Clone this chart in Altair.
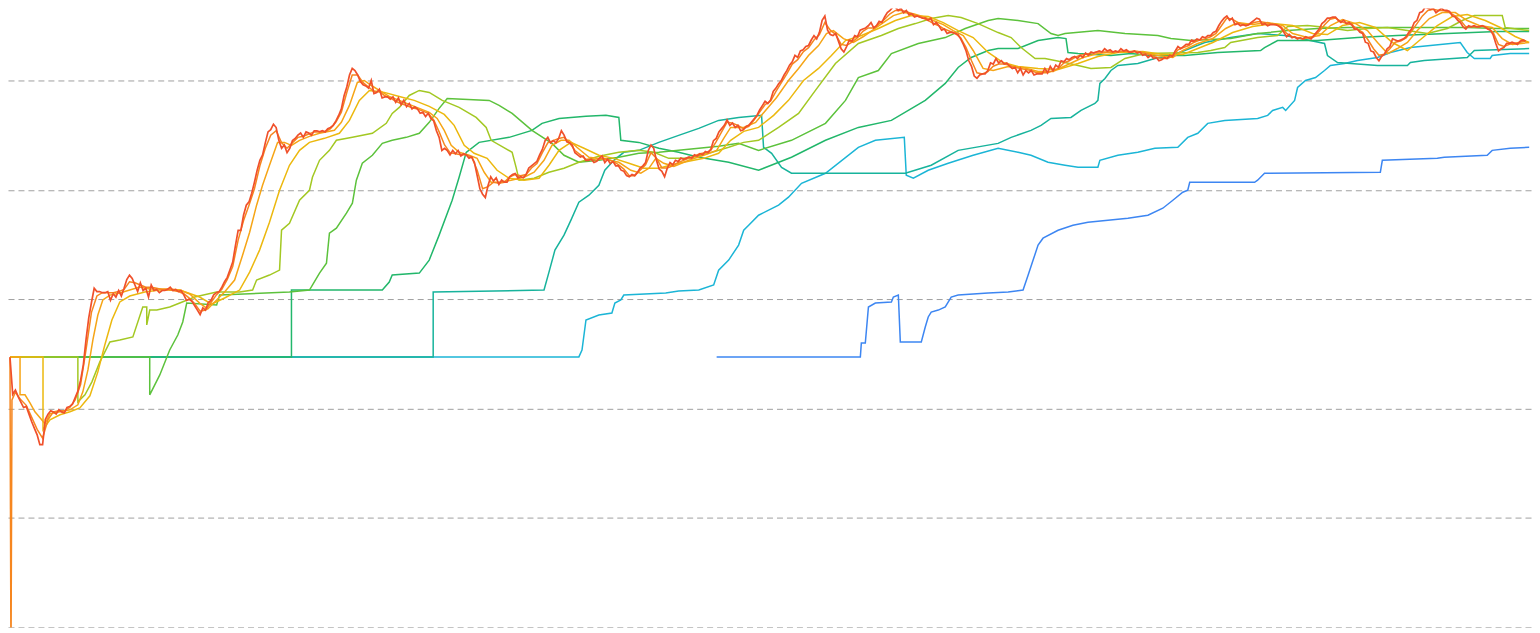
import altair as alt
import pandas as pd

# ---- time axis: decimal years; price values stored as log10(price in USD) ----
START = 2015.600           # first sample
WEEK = 7 / 365.25          # weekly sampling of the spot price

# spot price, even weeks (0, 2, 4, ...)
price_log = [
0.47,0.17,0.06,0.02,-0.12,-0.24,-0.33,-0.05,-0.03,-0.01,-0.04,0.02,0.10,0.26,0.63,0.97,1.07,1.06,1.07,1.05,
1.08,1.10,1.22,1.13,1.15,1.10,1.13,1.09,1.08,1.09,1.08,1.07,1.04,1.00,0.94,0.86,0.90,0.99,1.06,1.11,
1.20,1.34,1.63,1.77,1.89,2.07,2.27,2.43,2.55,2.57,2.38,2.34,2.45,2.50,2.48,2.52,2.54,2.53,2.53,2.57,
2.63,2.74,2.94,3.11,3.05,2.96,2.93,2.88,2.92,2.85,2.83,2.80,2.78,2.76,2.74,2.74,2.71,2.70,2.63,2.48,
2.38,2.32,2.33,2.31,2.32,2.30,2.13,1.96,2.04,2.08,2.05,2.07,2.12,2.15,2.12,2.14,2.22,2.26,2.37,2.48,
2.45,2.47,2.50,2.43,2.34,2.30,2.27,2.28,2.26,2.31,2.28,2.26,2.22,2.17,2.12,2.13,2.20,2.25,2.41,2.27,
2.17,2.20,2.23,2.26,2.28,2.30,2.32,2.33,2.35,2.37,2.47,2.56,2.64,2.61,2.59,2.55,2.59,2.65,2.73,2.81,
2.82,2.93,3.00,3.09,3.17,3.21,3.28,3.32,3.41,3.44,3.59,3.42,3.43,3.29,3.31,3.36,3.40,3.47,3.50,3.48,
3.54,3.58,3.64,3.67,3.66,3.64,3.61,3.59,3.57,3.55,3.51,3.50,3.47,3.44,3.43,3.38,3.27,3.13,3.02,3.06,
3.09,3.15,3.16,3.15,3.13,3.12,3.11,3.09,3.09,3.06,3.06,3.07,3.09,3.12,3.17,3.19,3.22,3.23,3.25,3.26,
3.26,3.26,3.27,3.26,3.26,3.27,3.26,3.27,3.26,3.24,3.23,3.21,3.19,3.20,3.22,3.31,3.31,3.33,3.36,3.37,
3.39,3.41,3.45,3.54,3.59,3.57,3.52,3.51,3.51,3.55,3.56,3.52,3.51,3.51,3.48,3.40,3.39,3.38,3.38,3.39,
3.41,3.47,3.54,3.57,3.58,3.53,3.52,3.51,3.47,3.43,3.34,3.26,3.18,3.24,3.31,3.37,3.37,3.40,3.47,3.55,
3.63,3.66,3.66,3.64,3.64,3.63,3.58,3.53,3.47,3.49,3.49,3.50,3.47,3.42,3.27,3.30,3.34,3.34,3.36,3.36,
]

# spot price, odd weeks (1, 3, 5, ...)
price_log_odd = [
0.13,0.11,0.01,-0.05,-0.18,-0.33,-0.10,-0.02,-0.05,-0.03,0.01,0.04,0.16,0.40,0.83,1.10,1.07,1.06,0.99,1.02,
1.03,1.18,1.19,1.07,1.08,1.02,1.08,1.06,1.08,1.11,1.09,1.08,0.99,0.98,0.90,0.92,0.97,1.04,1.07,1.16,
1.27,1.49,1.63,1.86,1.97,2.18,2.32,2.53,2.60,2.45,2.41,2.38,2.47,2.52,2.53,2.50,2.54,2.54,2.56,2.59,
2.68,2.86,3.05,3.09,2.99,2.95,3.00,2.89,2.84,2.85,2.85,2.84,2.82,2.79,2.76,2.70,2.67,2.65,2.54,2.36,
2.36,2.36,2.36,2.33,2.29,2.25,2.01,1.93,2.12,2.11,2.09,2.07,2.14,2.11,2.11,2.20,2.24,2.32,2.45,2.43,
2.43,2.54,2.44,2.41,2.32,2.31,2.27,2.25,2.29,2.25,2.24,2.22,2.18,2.13,2.14,2.16,2.22,2.36,2.38,2.19,
2.12,2.25,2.27,2.29,2.29,2.29,2.31,2.32,2.34,2.45,2.53,2.59,2.59,2.57,2.54,2.58,2.62,2.68,2.77,2.79,
2.90,2.97,3.05,3.14,3.23,3.27,3.31,3.37,3.38,3.55,3.46,3.41,3.36,3.26,3.37,3.41,3.46,3.48,3.53,3.50,
3.53,3.62,3.67,3.64,3.62,3.60,3.58,3.58,3.57,3.57,3.53,3.46,3.43,3.44,3.42,3.33,3.18,3.04,3.05,3.06,
3.16,3.20,3.18,3.16,3.11,3.07,3.05,3.07,3.05,3.06,3.11,3.13,3.14,3.18,3.20,3.21,3.20,3.21,3.23,3.25,
3.27,3.29,3.28,3.27,3.29,3.28,3.26,3.25,3.23,3.21,3.20,3.18,3.21,3.23,3.27,3.29,3.33,3.37,3.38,3.40,
3.41,3.44,3.50,3.57,3.55,3.51,3.50,3.50,3.53,3.57,3.51,3.50,3.51,3.50,3.44,3.42,3.40,3.39,3.40,3.38,
3.44,3.52,3.57,3.58,3.55,3.55,3.53,3.47,3.44,3.35,3.27,3.21,3.22,3.29,3.38,3.36,3.38,3.44,3.53,3.62,
3.67,3.65,3.62,3.66,3.64,3.59,3.55,3.49,3.50,3.50,3.49,3.49,3.46,3.34,3.29,3.34,3.35,3.33,3.37,
]

# fast moving line (two-week samples)
STEP2 = 14 / 365.25
fast_log = [
0.47,0.15,0.08,0.03,-0.08,-0.19,-0.27,-0.10,-0.03,-0.02,-0.02,0.01,0.08,0.22,0.54,0.88,1.03,1.06,1.06,1.06,
1.07,1.09,1.16,1.15,1.13,1.11,1.11,1.10,1.09,1.09,1.08,1.07,1.05,1.01,0.96,0.89,0.90,0.97,1.04,1.09,
1.18,1.30,1.54,1.72,1.86,2.01,2.22,2.38,2.50,2.54,2.43,2.38,2.43,2.48,2.49,2.51,2.53,2.53,2.53,2.56,
2.62,2.71,2.89,3.05,3.05,2.98,2.94,2.90,2.90,2.86,2.84,2.81,2.79,2.77,2.75,2.74,2.72,2.70,2.64,2.53,
2.41,2.34,2.33,2.32,2.32,2.30,2.18,2.01,2.03,2.07,2.06,2.07,2.12,2.14,2.13,2.14,2.20,2.24,2.34,2.43,
2.45,2.47,2.48,2.43,2.36,2.32,2.28,2.28,2.27,2.29,2.28,2.26,2.23,2.19,2.13,2.13,2.18,2.23,2.34,2.29,
2.20,2.20,2.22,2.25,2.27,2.29,2.31,2.33,2.34,2.36,2.44,2.53,2.62,2.61,2.59,2.56,2.58,2.64,2.71,2.78,
2.81,2.90,2.98,3.06,3.15,3.19,3.26,3.30,3.37,3.42,3.53,3.46,3.42,3.33,3.32,3.35,3.39,3.45,3.48,3.48,
3.52,3.56,3.61,3.64,3.64,3.63,3.61,3.59,3.57,3.55,3.52,3.50,3.47,3.45,3.43,3.39,3.30,3.18,3.07,3.06,
3.08,3.13,3.15,3.15,3.14,3.12,3.11,3.10,3.09,3.07,3.07,3.07,3.09,3.11,3.16,3.18,3.21,3.23,3.24,3.25,
3.26,3.26,3.26,3.26,3.26,3.27,3.26,3.27,3.26,3.25,3.23,3.21,3.20,3.20,3.22,3.28,3.30,3.32,3.35,3.37,
3.38,3.40,3.43,3.50,3.57,3.56,3.53,3.51,3.51,3.53,3.54,3.53,3.52,3.51,3.49,3.43,3.40,3.39,3.38,3.39,
3.40,3.45,3.51,3.56,3.57,3.54,3.52,3.51,3.47,3.44,3.37,3.29,3.23,3.24,3.29,3.35,3.36,3.39,3.45,3.52,
3.59,3.64,3.65,3.64,3.64,3.62,3.59,3.55,3.49,3.49,3.49,3.50,3.48,3.44,3.33,3.31,3.33,3.34,3.35,3.36,
]

# bad print right after launch in the fast series
launch_t = [2015.607, 2015.614]
launch_log = [-2.4, 0.08]

c_t = [2015.600,2015.671,2015.671,2015.706,2015.741,2015.776,2015.812,2015.847,2015.882,2015.953,2016.023,2016.079,2016.114,2016.150,2016.185,2016.220,2016.255,2016.305,2016.375,2016.445,2016.516,2016.586,2016.657,2016.727,2016.798,2016.868,2016.938,2016.995,2017.044,2017.114,2017.185,2017.241,2017.291,2017.340,2017.382,2017.431,2017.488,2017.537,2017.586,2017.643,2017.713,2017.784,2017.889,2017.938,2017.995,2018.051,2018.100,2018.150,2018.206,2018.276,2018.347,2018.417,2018.488,2018.558,2018.614,2018.664,2018.713,2018.769,2018.840,2018.896,2018.946,2018.995,2019.051,2019.136,2019.227,2019.298,2019.368,2019.424,2019.488,2019.544,2019.600,2019.685,2019.791,2019.896,2019.981,2020.051,2020.108,2020.157,2020.213,2020.284,2020.389,2020.495,2020.586,2020.636,2020.685,2020.777,2020.861,2020.931,2021.009,2021.093,2021.164,2021.234,2021.305,2021.361,2021.410,2021.481,2021.551,2021.622,2021.692,2021.762,2021.833,2021.903,2021.974,2022.044,2022.114,2022.185,2022.255,2022.326,2022.396,2022.466,2022.537,2022.643,2022.748,2022.854,2022.960,2023.065,2023.171,2023.276,2023.417,2023.558,2023.699,2023.805,2023.875,2023.981,2024.087,2024.178,2024.263,2024.368,2024.474,2024.580,2024.650,2024.755,2024.840,2024.917,2025.002,2025.094,2025.178,2025.249,2025.320,2025.389,2025.460,2025.530,2025.615,2025.706,2025.798,2025.882,2025.967,2026.058,2026.129,2026.200,2026.319]
c_log = [0.473,0.473,0.126,0.126,0.053,-0.029,-0.084,-0.139,-0.047,-0.029,-0.011,0.035,0.153,0.354,0.628,0.856,0.993,1.038,1.057,1.084,1.111,1.093,1.093,1.093,1.084,1.048,0.965,0.911,0.975,1.066,1.175,1.403,1.613,1.860,2.042,2.225,2.434,2.434,2.407,2.453,2.489,2.517,2.544,2.617,2.772,2.982,3.000,2.954,2.909,2.854,2.818,2.781,2.745,2.708,2.653,2.544,2.407,2.343,2.316,2.288,2.161,2.069,2.069,2.088,2.115,2.161,2.270,2.407,2.453,2.453,2.389,2.298,2.279,2.252,2.179,2.152,2.197,2.288,2.243,2.215,2.270,2.316,2.361,2.471,2.571,2.571,2.617,2.726,2.845,3.000,3.110,3.228,3.319,3.429,3.456,3.383,3.347,3.402,3.465,3.529,3.593,3.621,3.611,3.584,3.548,3.511,3.456,3.411,3.274,3.110,3.091,3.128,3.119,3.082,3.082,3.146,3.210,3.246,3.265,3.265,3.228,3.210,3.274,3.338,3.383,3.475,3.529,3.511,3.529,3.502,3.429,3.392,3.411,3.502,3.557,3.520,3.456,3.347,3.246,3.292,3.347,3.456,3.566,3.621,3.621,3.548,3.502,3.484,3.383,3.329,3.347]

d_t = [2015.600,2015.833,2015.833,2015.882,2015.953,2016.023,2016.093,2016.164,2016.220,2016.269,2016.319,2016.375,2016.445,2016.551,2016.657,2016.798,2016.938,2017.023,2017.114,2017.220,2017.291,2017.361,2017.431,2017.502,2017.572,2017.643,2017.713,2017.819,2017.924,2017.995,2018.065,2018.136,2018.241,2018.347,2018.452,2018.558,2018.664,2018.734,2018.805,2018.875,2018.967,2019.037,2019.122,2019.227,2019.333,2019.403,2019.474,2019.558,2019.650,2019.755,2019.861,2019.967,2020.072,2020.178,2020.284,2020.389,2020.495,2020.600,2020.685,2020.777,2020.882,2020.988,2021.093,2021.199,2021.305,2021.396,2021.495,2021.608,2021.727,2021.847,2021.959,2022.079,2022.185,2022.290,2022.396,2022.502,2022.607,2022.713,2022.854,2022.995,2023.136,2023.276,2023.417,2023.593,2023.734,2023.875,2023.981,2024.087,2024.227,2024.368,2024.509,2024.650,2024.791,2024.896,2025.002,2025.122,2025.234,2025.354,2025.460,2025.544,2025.671,2025.777,2025.882,2026.009,2026.115,2026.220,2026.319]
d_log = [0.473,0.473,-0.193,-0.102,-0.056,-0.029,0.007,0.117,0.336,0.582,0.810,0.975,1.029,1.066,1.084,1.084,1.020,0.956,1.011,1.084,1.248,1.449,1.704,1.996,2.225,2.361,2.434,2.471,2.517,2.635,2.818,2.909,2.891,2.854,2.818,2.763,2.690,2.590,2.407,2.334,2.288,2.179,2.106,2.088,2.106,2.225,2.361,2.434,2.380,2.316,2.288,2.243,2.197,2.197,2.234,2.261,2.288,2.334,2.453,2.535,2.571,2.681,2.818,3.000,3.110,3.228,3.365,3.411,3.475,3.548,3.593,3.584,3.529,3.456,3.392,3.256,3.164,3.128,3.110,3.100,3.155,3.219,3.256,3.265,3.237,3.237,3.292,3.347,3.438,3.493,3.520,3.502,3.429,3.420,3.502,3.529,3.484,3.347,3.274,3.365,3.502,3.584,3.602,3.548,3.484,3.402,3.347]

e_t = [2015.600,2016.079,2016.079,2016.129,2016.178,2016.234,2016.305,2016.375,2016.467,2016.537,2016.565,2016.565,2016.586,2016.636,2016.727,2016.798,2016.903,2017.058,2017.220,2017.312,2017.340,2017.431,2017.502,2017.516,2017.572,2017.643,2017.713,2017.734,2017.784,2017.854,2017.903,2018.016,2018.157,2018.255,2018.297,2018.347,2018.417,2018.488,2018.558,2018.650,2018.769,2018.889,2018.960,2018.995,2019.143,2019.171,2019.192,2019.298,2019.403,2019.509,2019.614,2019.755,2019.896,2020.037,2020.143,2020.248,2020.389,2020.530,2020.671,2020.777,2020.882,2021.023,2021.164,2021.283,2021.424,2021.586,2021.748,2021.868,2021.988,2022.100,2022.220,2022.311,2022.431,2022.572,2022.664,2022.734,2022.833,2022.903,2023.044,2023.136,2023.227,2023.368,2023.467,2023.607,2023.981,2024.072,2024.171,2024.213,2024.403,2024.544,2024.615,2024.755,2024.896,2025.037,2025.178,2025.319,2025.460,2025.601,2025.742,2025.847,2025.932,2026.129,2026.150,2026.319]
e_log = [0.473,0.473,0.062,0.126,0.245,0.427,0.610,0.628,0.655,0.929,0.929,0.765,0.901,0.901,0.929,0.965,1.020,1.066,1.066,1.084,1.175,1.221,1.266,1.631,1.695,1.905,1.996,2.115,2.270,2.361,2.453,2.480,2.517,2.608,2.699,2.754,2.863,2.909,2.891,2.818,2.754,2.662,2.571,2.453,2.343,2.206,2.088,2.106,2.161,2.197,2.252,2.307,2.343,2.361,2.343,2.288,2.288,2.334,2.389,2.434,2.453,2.571,2.699,2.909,3.155,3.338,3.411,3.475,3.520,3.566,3.593,3.575,3.520,3.438,3.392,3.301,3.201,3.201,3.164,3.137,3.110,3.119,3.201,3.246,3.256,3.274,3.301,3.347,3.392,3.411,3.493,3.502,3.484,3.456,3.475,3.484,3.456,3.429,3.475,3.548,3.593,3.593,3.484,3.456]

f_t = [2015.600,2016.586,2016.586,2016.657,2016.727,2016.784,2016.819,2016.847,2017.058,2017.079,2017.572,2017.713,2017.784,2017.833,2017.854,2017.903,2017.974,2018.016,2018.044,2018.086,2018.157,2018.227,2018.297,2018.396,2018.488,2018.558,2018.628,2018.685,2018.981,2019.051,2019.143,2019.283,2019.424,2019.509,2019.614,2019.755,2019.896,2020.037,2020.178,2020.318,2020.460,2020.600,2020.741,2020.882,2021.114,2021.354,2021.495,2021.586,2021.727,2021.819,2022.009,2022.199,2022.340,2022.502,2022.572,2022.713,2022.854,2022.945,2022.995,2023.044,2023.276,2023.467,2023.699,2023.791,2023.932,2024.213,2024.403,2024.615,2024.826,2025.037,2025.249,2025.460,2025.671,2025.882,2026.093,2026.319]
f_log = [0.473,0.473,0.126,0.308,0.536,0.673,0.792,0.965,0.947,1.038,1.066,1.084,1.239,1.330,1.604,1.650,1.787,1.878,2.088,2.243,2.316,2.425,2.453,2.480,2.517,2.617,2.745,2.836,2.818,2.772,2.699,2.544,2.425,2.316,2.252,2.270,2.298,2.334,2.343,2.361,2.380,2.398,2.425,2.361,2.453,2.608,2.818,3.027,3.091,3.246,3.338,3.392,3.475,3.548,3.566,3.548,3.520,3.429,3.411,3.429,3.456,3.429,3.411,3.383,3.365,3.383,3.429,3.456,3.475,3.484,3.484,3.484,3.484,3.484,3.475,3.475]

g_t = [2015.600,2017.586,2017.586,2018.227,2018.276,2018.297,2018.488,2018.558,2018.628,2018.720,2018.769,2018.819,2018.910,2019.122,2019.283,2019.354,2019.474,2019.664,2019.805,2019.896,2019.910,2020.037,2020.178,2020.318,2020.460,2020.671,2020.882,2021.114,2021.354,2021.586,2021.819,2022.058,2022.199,2022.290,2022.382,2022.502,2022.572,2022.713,2022.854,2022.995,2023.051,2023.065,2023.136,2023.368,2023.509,2023.650,2023.889,2024.122,2024.424,2024.452,2024.544,2024.826,2025.108,2025.389,2025.742,2026.093,2026.319]
g_log = [0.473,0.473,1.084,1.084,1.157,1.221,1.239,1.358,1.586,1.905,2.115,2.343,2.434,2.480,2.544,2.608,2.653,2.672,2.681,2.662,2.453,2.434,2.380,2.343,2.298,2.252,2.179,2.298,2.453,2.571,2.635,2.818,2.973,3.119,3.210,3.274,3.292,3.292,3.365,3.392,3.383,3.256,3.246,3.228,3.246,3.228,3.228,3.256,3.274,3.301,3.365,3.365,3.392,3.411,3.429,3.447,3.447]

h_t = [2015.600,2018.586,2018.586,2019.368,2019.403,2019.445,2019.509,2019.558,2019.614,2019.685,2019.755,2019.797,2019.861,2019.931,2020.037,2020.178,2020.318,2020.460,2020.600,2020.741,2020.903,2020.917,2020.974,2021.044,2021.114,2021.917,2022.100,2022.290,2022.572,2022.664,2022.804,2022.875,2022.945,2023.086,2023.157,2023.255,2023.276,2023.290,2023.326,2023.368,2023.417,2023.558,2023.678,2023.791,2023.889,2024.030,2024.213,2024.403,2024.594,2024.706,2024.875,2024.896,2024.967,2025.249,2025.460,2025.481,2025.579,2025.882,2025.932,2026.319]
h_log = [0.473,0.473,1.066,1.084,1.248,1.449,1.586,1.723,1.887,1.951,2.042,2.179,2.270,2.343,2.361,2.434,2.498,2.562,2.635,2.662,2.681,2.389,2.334,2.206,2.152,2.152,2.225,2.361,2.425,2.480,2.544,2.590,2.653,2.662,2.726,2.790,2.818,2.973,3.018,3.091,3.137,3.155,3.201,3.228,3.274,3.347,3.392,3.429,3.411,3.383,3.338,3.228,3.164,3.137,3.137,3.164,3.183,3.210,3.274,3.292]

i_t = [2015.600,2019.614,2019.636,2019.664,2019.755,2019.847,2019.868,2019.910,2019.931,2020.227,2020.318,2020.460,2020.565,2020.600,2020.671,2020.741,2020.777,2020.812,2020.882,2020.953,2021.023,2021.093,2021.185,2021.354,2021.586,2021.706,2021.910,2021.924,2021.974,2022.079,2022.220,2022.396,2022.572,2022.713,2022.804,2022.924,2023.044,2023.136,2023.276,2023.290,2023.417,2023.558,2023.678,2023.840,2023.910,2023.981,2024.051,2024.171,2024.403,2024.474,2024.509,2024.580,2024.601,2024.664,2024.685,2024.741,2024.812,2024.875,2024.917,2025.016,2025.108,2025.249,2025.340,2025.481,2025.622,2025.833,2025.882,2025.932,2026.044,2026.058,2026.185,2026.319]
i_log = [0.473,0.473,0.536,0.810,0.856,0.874,0.965,0.993,1.038,1.057,1.075,1.084,1.130,1.266,1.358,1.495,1.631,1.677,1.768,1.814,1.860,1.933,2.060,2.152,2.389,2.453,2.480,2.133,2.106,2.179,2.243,2.316,2.380,2.343,2.316,2.252,2.225,2.206,2.206,2.270,2.316,2.343,2.380,2.389,2.480,2.517,2.608,2.635,2.653,2.681,2.726,2.754,2.726,2.818,2.936,3.000,3.027,3.091,3.137,3.155,3.183,3.210,3.256,3.301,3.319,3.347,3.256,3.201,3.201,3.228,3.246,3.246]

j_t = [2020.586,2021.600,2021.607,2021.635,2021.657,2021.706,2021.819,2021.833,2021.868,2021.882,2022.030,2022.058,2022.079,2022.100,2022.150,2022.199,2022.241,2022.290,2022.502,2022.643,2022.748,2022.784,2022.819,2022.854,2022.889,2022.995,2023.100,2023.206,2023.347,2023.488,2023.629,2023.734,2023.805,2023.875,2023.910,2023.924,2024.382,2024.403,2024.452,2025.269,2025.283,2025.671,2025.720,2026.023,2026.058,2026.185,2026.319]
j_log = [0.473,0.473,0.600,0.600,0.929,0.965,0.975,1.020,1.038,0.610,0.610,0.746,0.838,0.883,0.901,0.929,1.020,1.038,1.057,1.066,1.084,1.221,1.358,1.495,1.558,1.631,1.677,1.704,1.723,1.741,1.768,1.832,1.905,1.978,1.996,2.069,2.069,2.088,2.152,2.161,2.270,2.288,2.298,2.316,2.361,2.380,2.389]

# ---- build tables ----
spot_v = []
for k, v in enumerate(price_log):
    spot_v.append(v)
    if k < len(price_log_odd):
        spot_v.append(price_log_odd[k])
spot_t = [START + k * WEEK for k in range(len(spot_v))]

grid2_t = [START + k * STEP2 for k in range(len(fast_log))]
fast_t = [grid2_t[0]] + launch_t + grid2_t[1:]
fast_v = [fast_log[0]] + launch_log + fast_log[1:]

# bottom layer first, spot price last (on top)
series = [
    ("J", j_t, j_log, "#3d86f2"),
    ("I", i_t, i_log, "#1bb5d6"),
    ("H", h_t, h_log, "#17b39c"),
    ("G", g_t, g_log, "#22b76b"),
    ("F", f_t, f_log, "#5cc23c"),
    ("E", e_t, e_log, "#a3c823"),
    ("D", d_t, d_log, "#ecb80e"),
    ("C", c_t, c_log, "#f6a516"),
    ("B", fast_t, fast_v, "#f6861f"),
    ("A", spot_t, spot_v, "#f0502b"),
]

x_enc = alt.X("t:Q", scale=alt.Scale(domain=[2015.586, 2026.339], nice=False, zero=False), axis=None)
y_enc = alt.Y(
    "price:Q",
    scale=alt.Scale(type="log", domain=[0.01, 4539], nice=False),
    axis=alt.Axis(
        values=[0.01, 0.1, 1, 10, 100, 1000],
        grid=True, labels=False, ticks=False, domain=False, title=None,
        gridDash=[6, 4], gridColor="#a0a0a0", gridWidth=1,
    ),
)

layers = []
for name, ts, ls, col in series:
    df = pd.DataFrame({"t": ts, "price": [10 ** v for v in ls], "i": list(range(len(ts)))})
    layers.append(
        alt.Chart(df)
        .mark_line(color=col, strokeWidth=1.7 if name == "A" else 1.5, clip=True)
        .encode(x=x_enc, y=y_enc, order="i:Q")
    )

chart = (
    alt.layer(*layers)
    .properties(width=1527, height=620, padding=0, autosize=alt.AutoSizeParams(type="none"),
                background="white")
    .configure_view(stroke=None, strokeWidth=0)
)

chart.save("out.html", embed_options={"renderer": "svg", "actions": False})
